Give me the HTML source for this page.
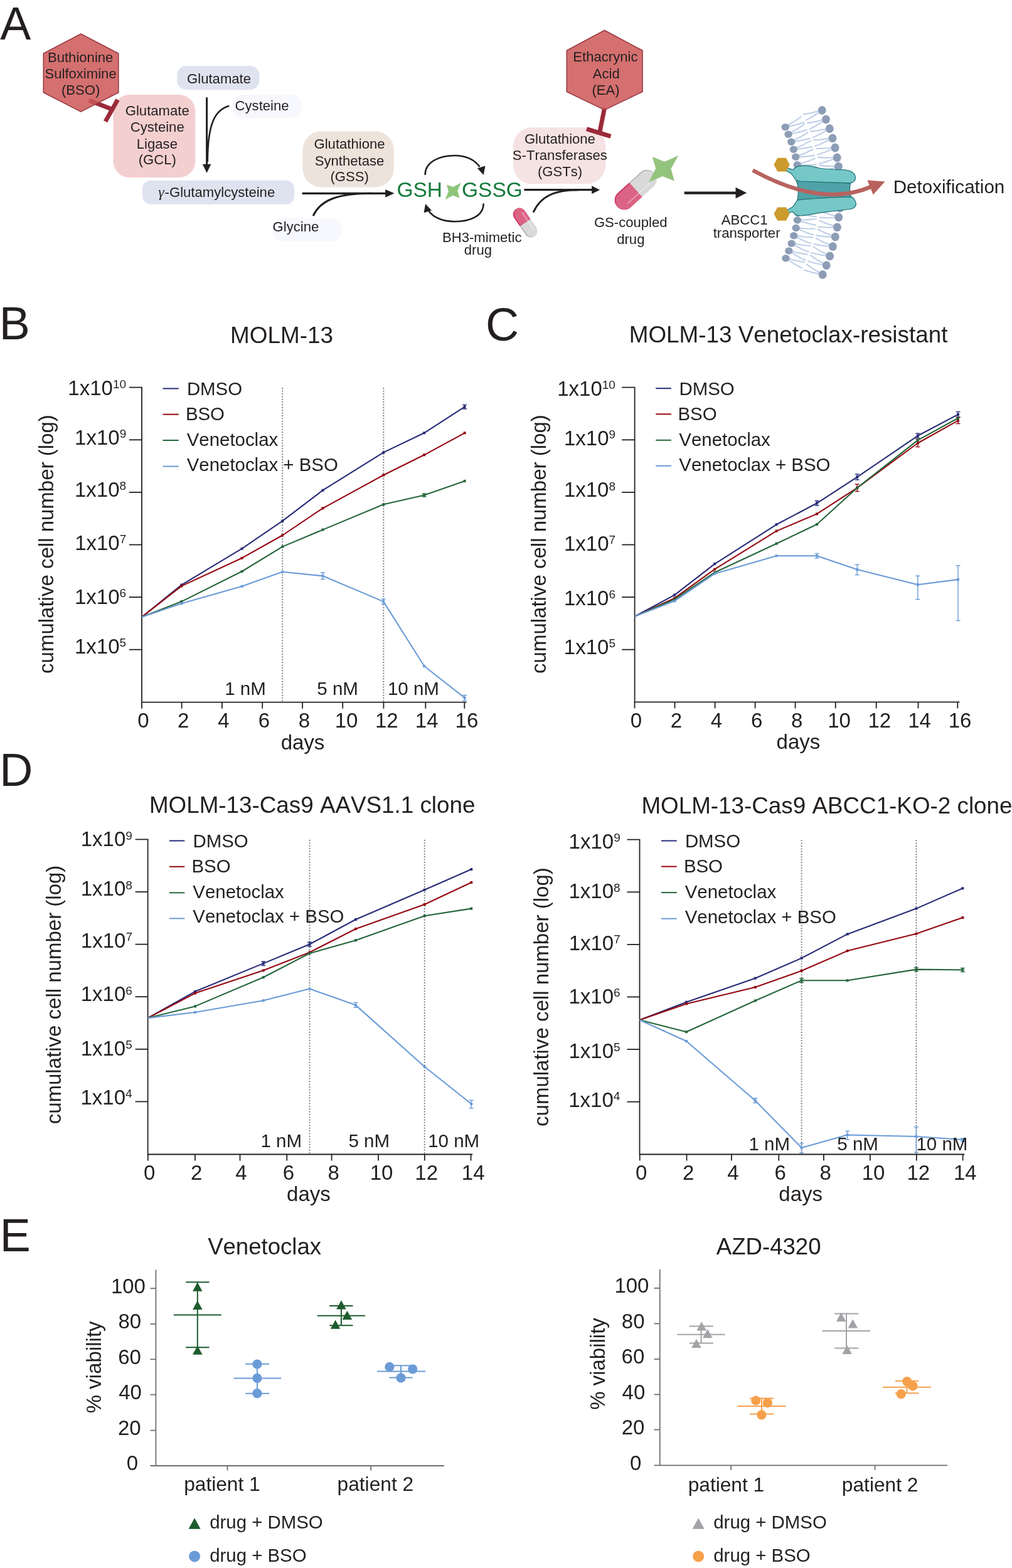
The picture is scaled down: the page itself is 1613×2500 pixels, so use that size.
<!DOCTYPE html>
<html><head><meta charset="utf-8"><title>Figure</title><style>html,body{margin:0;padding:0;background:#fff;}svg{display:block;}text{font-family:"Liberation Sans",Arial,sans-serif;font-kerning:none;}</style></head><body>
<svg width="1613" height="2500" viewBox="0 0 1613 2500" font-family="'Liberation Sans', Arial, sans-serif">
<rect width="1613" height="2500" fill="#ffffff"/>
<text x="0.36" y="63.00" font-size="73.5" fill="#231f20">A</text>
<text x="-1.33" y="541.40" font-size="73.5" fill="#231f20">B</text>
<text x="773.97" y="542.70" font-size="73.5" fill="#231f20">C</text>
<text x="-0.83" y="1252.70" font-size="73.5" fill="#231f20">D</text>
<text x="-0.33" y="1995.30" font-size="73.5" fill="#231f20">E</text>
<rect x="180.40" y="151.10" width="130.90" height="131.90" rx="26" ry="26" fill="#f4cfd0"/>
<rect x="282.20" y="105.00" width="131.30" height="38.20" rx="15" ry="15" fill="#dfe3f0"/>
<rect x="371.60" y="151.10" width="109.00" height="37.40" rx="15" ry="15" fill="#f7f8fe"/>
<rect x="227.00" y="287.70" width="242.10" height="38.00" rx="13" ry="13" fill="#dfe3f0"/>
<rect x="435.00" y="348.00" width="109.50" height="36.80" rx="15" ry="15" fill="#f7f8fe"/>
<rect x="482.30" y="209.20" width="145.60" height="89.40" rx="30" ry="30" fill="#eee3db"/>
<rect x="817.90" y="203.20" width="147.30" height="90.10" rx="30" ry="30" fill="#f5e2e2"/>
<line x1="141.9" y1="159.9" x2="177.5" y2="173.8" stroke="#9b2a3a" stroke-width="7"/>
<line x1="187.5" y1="159.0" x2="168.0" y2="193.6" stroke="#9b2a3a" stroke-width="7"/>
<polygon points="128.9,54 188.8,85.2 188.8,147.5 128.9,178.1 69.3,147.5 69.3,85.2" fill="#cc5756" fill-opacity="0.85" stroke="#9a3a46" stroke-width="1.6" stroke-linejoin="round"/>
<text x="75.96" y="99.10" font-size="22.1" fill="#231f20">Buthionine</text>
<text x="71.47" y="125.30" font-size="22.1" fill="#231f20">Sulfoximine</text>
<text x="97.90" y="151.40" font-size="22.1" fill="#231f20">(BSO)</text>
<line x1="963.6" y1="172" x2="955.9" y2="210.5" stroke="#9b2a3a" stroke-width="7"/>
<line x1="935.0" y1="205.6" x2="973.4" y2="217.3" stroke="#9b2a3a" stroke-width="7"/>
<polygon points="963.6,48.2 1024,80.5 1024,146.2 963.6,175.4 903.3,146.2 903.3,80.5" fill="#cc5756" fill-opacity="0.85" stroke="#9a3a46" stroke-width="1.6" stroke-linejoin="round"/>
<text x="913.30" y="98.40" font-size="22.1" fill="#231f20">Ethacrynic</text>
<text x="944.69" y="125.10" font-size="22.1" fill="#231f20">Acid</text>
<text x="943.40" y="151.40" font-size="22.1" fill="#231f20">(EA)</text>
<text x="199.76" y="184.40" font-size="22.1" fill="#231f20">Glutamate</text>
<text x="207.74" y="210.30" font-size="22.1" fill="#231f20">Cysteine</text>
<text x="217.82" y="237.30" font-size="22.1" fill="#231f20">Ligase</text>
<text x="220.72" y="262.30" font-size="22.1" fill="#231f20">(GCL)</text>
<text x="298.09" y="133.00" font-size="22.1" fill="#231f20">Glutamate</text>
<text x="374.58" y="175.60" font-size="22.1" fill="#231f20">Cysteine</text>
<text x="434.59" y="369.30" font-size="22.1" fill="#231f20">Glycine</text>
<text x="252.2" y="314.3" font-size="24" fill="#231f20" style="font-family:'Liberation Serif','DejaVu Serif',serif;font-style:italic">γ</text>
<text x="262.62" y="314.30" font-size="22.1" fill="#231f20">-Glutamylcysteine</text>
<text x="500.52" y="236.90" font-size="22.1" fill="#231f20">Glutathione</text>
<text x="501.80" y="263.50" font-size="22.1" fill="#231f20">Synthetase</text>
<text x="526.40" y="288.70" font-size="22.1" fill="#231f20">(GSS)</text>
<text x="835.92" y="229.00" font-size="22.1" fill="#231f20">Glutathione</text>
<text x="816.87" y="255.30" font-size="22.1" fill="#231f20">S-Transferases</text>
<text x="856.90" y="280.60" font-size="22.1" fill="#231f20">(GSTs)</text>
<text x="705.00" y="385.70" font-size="22.1" fill="#231f20">BH3-mimetic</text>
<text x="739.83" y="406.00" font-size="22.1" fill="#231f20">drug</text>
<text x="946.90" y="362.40" font-size="22.1" fill="#231f20">GS-coupled</text>
<text x="983.23" y="388.70" font-size="22.1" fill="#231f20">drug</text>
<text x="1149.87" y="357.70" font-size="22.1" fill="#231f20">ABCC1</text>
<text x="1136.68" y="378.70" font-size="22.1" fill="#231f20">transporter</text>
<text x="1423.67" y="308.20" font-size="29.6" fill="#231f20">Detoxification</text>
<line x1="329.6" y1="155.3" x2="329.6" y2="264" stroke="#231f20" stroke-width="3"/>
<polygon points="329.60,275.80 322.80,261.80 336.40,261.80" fill="#231f20"/>
<path d="M365.3,168.8 C343,175 331,196 330.8,258" fill="none" stroke="#231f20" stroke-width="2.6"/>
<line x1="481.6" y1="308.3" x2="616" y2="308.3" stroke="#231f20" stroke-width="3.2"/>
<polygon points="628.50,308.30 614.20,314.70 614.20,301.90" fill="#231f20"/>
<path d="M499.1,344.2 C511,318 540,308.5 592,308.3" fill="none" stroke="#231f20" stroke-width="3"/>
<path d="M677.7,279 C677,259 699,248 725,248 C743,248 757,255 764.5,266" fill="none" stroke="#231f20" stroke-width="2.6"/>
<polygon points="760.9,268.3 773.5,264.5 770.6,278.9" fill="#231f20"/>
<path d="M770.6,324.5 C771,344 750,353.2 725,353.2 C706,353.2 691,347 683.5,336.5" fill="none" stroke="#231f20" stroke-width="2.6"/>
<polygon points="675.6,339.3 678.1,324.9 687.9,335.5" fill="#231f20"/>
<line x1="835.4" y1="302.7" x2="945" y2="302.7" stroke="#231f20" stroke-width="3.2"/>
<polygon points="956.00,302.70 943.20,309.20 943.20,296.20" fill="#231f20"/>
<path d="M850,338.6 C862,312 885,302.9 922,302.7" fill="none" stroke="#231f20" stroke-width="2.9"/>
<line x1="1090.7" y1="307.6" x2="1175" y2="307.6" stroke="#231f20" stroke-width="4.3"/>
<polygon points="1190.10,307.60 1172.50,316.40 1172.50,298.80" fill="#231f20"/>
<text x="632.42" y="314.20" font-size="33.5" fill="#137a3b">GSH</text>
<text x="736.02" y="314.20" font-size="33.5" fill="#137a3b">GSSG</text>
<polygon points="711.9,294.5 722.5,297.9 734.7,291.6 729.2,304.2 732.6,315.6 721.6,311.8 709.4,318.2 714.9,305.5" fill="#8ec57a"/>
<g transform="translate(1013.00,302.60) rotate(-42.40)"><clipPath id="pbiga"><rect x="-39.75" y="-15.25" width="79.50" height="30.50" rx="15.25"/></clipPath><g clip-path="url(#pbiga)"><rect x="0" y="-16.25" width="40.75" height="32.50" fill="#b4b4b4"/><rect x="-39.75" y="-13.45" width="79.50" height="30.50" rx="15.25" fill="#d9d9d9" clip-path="none"/></g><clipPath id="pbigb"><rect x="-40.75" y="-16.25" width="40.75" height="32.50"/></clipPath><g clip-path="url(#pbigb)"><g clip-path="url(#pbiga)"><rect x="-39.75" y="-16.25" width="79.50" height="32.50" fill="#c9345e"/><rect x="-39.15" y="-13.45" width="79.50" height="30.50" rx="15.25" fill="#db6384"/></g></g><line x1="-24.50" y1="7.62" x2="26.02" y2="7.62" stroke="#ffffff" stroke-opacity="0.45" stroke-width="1.6"/></g>
<g transform="translate(837.00,354.90) rotate(55.60)"><clipPath id="psmalla"><rect x="-26.25" y="-10.20" width="52.50" height="20.40" rx="10.20"/></clipPath><g clip-path="url(#psmalla)"><rect x="0" y="-11.20" width="27.25" height="22.40" fill="#b4b4b4"/><rect x="-26.25" y="-12.00" width="52.50" height="20.40" rx="10.20" fill="#d9d9d9" clip-path="none"/></g><clipPath id="psmallb"><rect x="-27.25" y="-11.20" width="27.25" height="22.40"/></clipPath><g clip-path="url(#psmallb)"><g clip-path="url(#psmalla)"><rect x="-26.25" y="-11.20" width="52.50" height="22.40" fill="#c9345e"/><rect x="-25.65" y="-12.00" width="52.50" height="20.40" rx="10.20" fill="#db6384"/></g></g><line x1="-16.05" y1="-5.10" x2="17.07" y2="-5.10" stroke="#ffffff" stroke-opacity="0.45" stroke-width="1.6"/></g>
<polygon points="1039.8,250 1059.3,257.8 1081.2,248 1069.5,269 1074.9,288.4 1055.9,281.1 1034,290.4 1045.2,268.5" fill="#93c47d"/>
<path d="M1255.9,199.6 Q1266.8,193.9 1276.9,186.0" fill="none" stroke="#bfcfe8" stroke-width="2.1" stroke-linecap="round"/>
<path d="M1256.7,201.6 Q1269.2,199.5 1280.9,195.2" fill="none" stroke="#bfcfe8" stroke-width="2.1" stroke-linecap="round"/>
<path d="M1260.7,211.1 Q1271.7,205.6 1281.9,197.8" fill="none" stroke="#bfcfe8" stroke-width="2.1" stroke-linecap="round"/>
<path d="M1261.5,213.2 Q1274.1,211.2 1285.8,207.1" fill="none" stroke="#bfcfe8" stroke-width="2.1" stroke-linecap="round"/>
<path d="M1265.5,223.4 Q1276.9,218.5 1287.4,211.3" fill="none" stroke="#bfcfe8" stroke-width="2.1" stroke-linecap="round"/>
<path d="M1266.3,225.5 Q1278.9,224.2 1290.8,220.7" fill="none" stroke="#bfcfe8" stroke-width="2.1" stroke-linecap="round"/>
<path d="M1269.3,235.7 Q1280.8,231.3 1291.7,224.6" fill="none" stroke="#bfcfe8" stroke-width="2.1" stroke-linecap="round"/>
<path d="M1269.9,237.8 Q1282.6,237.1 1294.6,234.1" fill="none" stroke="#bfcfe8" stroke-width="2.1" stroke-linecap="round"/>
<path d="M1272.8,248.0 Q1284.5,244.1 1295.7,238.0" fill="none" stroke="#bfcfe8" stroke-width="2.1" stroke-linecap="round"/>
<path d="M1273.3,250.1 Q1286.0,250.0 1298.2,247.6" fill="none" stroke="#bfcfe8" stroke-width="2.1" stroke-linecap="round"/>
<path d="M1275.4,260.8 Q1287.4,257.9 1299.1,252.5" fill="none" stroke="#bfcfe8" stroke-width="2.1" stroke-linecap="round"/>
<path d="M1275.8,263.0 Q1288.5,263.9 1300.8,262.4" fill="none" stroke="#bfcfe8" stroke-width="2.1" stroke-linecap="round"/>
<path d="M1277.0,273.2 Q1289.1,270.7 1300.9,265.8" fill="none" stroke="#bfcfe8" stroke-width="2.1" stroke-linecap="round"/>
<path d="M1277.3,275.4 Q1289.9,276.8 1302.3,275.7" fill="none" stroke="#bfcfe8" stroke-width="2.1" stroke-linecap="round"/>
<path d="M1276.6,338.6 Q1288.9,338.2 1301.4,335.5" fill="none" stroke="#bfcfe8" stroke-width="2.1" stroke-linecap="round"/>
<path d="M1276.4,340.8 Q1288.7,344.3 1301.0,345.5" fill="none" stroke="#bfcfe8" stroke-width="2.1" stroke-linecap="round"/>
<path d="M1276.0,350.4 Q1288.4,350.9 1301.0,349.0" fill="none" stroke="#bfcfe8" stroke-width="2.1" stroke-linecap="round"/>
<path d="M1275.7,352.6 Q1287.7,357.0 1299.9,358.9" fill="none" stroke="#bfcfe8" stroke-width="2.1" stroke-linecap="round"/>
<path d="M1273.7,363.5 Q1286.0,365.2 1298.7,364.7" fill="none" stroke="#bfcfe8" stroke-width="2.1" stroke-linecap="round"/>
<path d="M1273.2,365.6 Q1284.7,371.2 1296.6,374.5" fill="none" stroke="#bfcfe8" stroke-width="2.1" stroke-linecap="round"/>
<path d="M1270.3,376.0 Q1282.5,378.4 1295.2,378.5" fill="none" stroke="#bfcfe8" stroke-width="2.1" stroke-linecap="round"/>
<path d="M1269.7,378.1 Q1280.9,384.3 1292.6,388.2" fill="none" stroke="#bfcfe8" stroke-width="2.1" stroke-linecap="round"/>
<path d="M1266.7,388.5 Q1278.7,391.4 1291.5,392.0" fill="none" stroke="#bfcfe8" stroke-width="2.1" stroke-linecap="round"/>
<path d="M1266.0,390.6 Q1276.9,397.2 1288.5,401.6" fill="none" stroke="#bfcfe8" stroke-width="2.1" stroke-linecap="round"/>
<path d="M1262.4,400.6 Q1274.2,404.1 1286.9,405.5" fill="none" stroke="#bfcfe8" stroke-width="2.1" stroke-linecap="round"/>
<path d="M1261.6,402.6 Q1272.1,409.9 1283.4,414.8" fill="none" stroke="#bfcfe8" stroke-width="2.1" stroke-linecap="round"/>
<path d="M1257.5,412.5 Q1269.2,416.3 1281.9,417.9" fill="none" stroke="#bfcfe8" stroke-width="2.1" stroke-linecap="round"/>
<path d="M1256.6,414.5 Q1267.0,422.0 1278.2,427.2" fill="none" stroke="#bfcfe8" stroke-width="2.1" stroke-linecap="round"/>
<path d="M1305.2,176.7 Q1293.5,180.6 1280.9,182.3" fill="none" stroke="#bfcfe8" stroke-width="2.1" stroke-linecap="round"/>
<path d="M1306.1,178.7 Q1295.8,186.2 1284.7,191.6" fill="none" stroke="#bfcfe8" stroke-width="2.1" stroke-linecap="round"/>
<path d="M1311.4,191.1 Q1299.6,194.8 1287.0,196.4" fill="none" stroke="#bfcfe8" stroke-width="2.1" stroke-linecap="round"/>
<path d="M1312.3,193.1 Q1301.9,200.5 1290.6,205.7" fill="none" stroke="#bfcfe8" stroke-width="2.1" stroke-linecap="round"/>
<path d="M1317.2,205.6 Q1305.2,208.7 1292.5,209.6" fill="none" stroke="#bfcfe8" stroke-width="2.1" stroke-linecap="round"/>
<path d="M1317.9,207.7 Q1307.2,214.5 1295.7,219.1" fill="none" stroke="#bfcfe8" stroke-width="2.1" stroke-linecap="round"/>
<path d="M1321.9,220.5 Q1309.8,223.0 1297.0,223.2" fill="none" stroke="#bfcfe8" stroke-width="2.1" stroke-linecap="round"/>
<path d="M1322.5,222.7 Q1311.4,228.9 1299.6,232.8" fill="none" stroke="#bfcfe8" stroke-width="2.1" stroke-linecap="round"/>
<path d="M1326.0,235.5 Q1313.7,237.3 1301.0,236.8" fill="none" stroke="#bfcfe8" stroke-width="2.1" stroke-linecap="round"/>
<path d="M1326.5,237.6 Q1315.0,243.2 1303.1,246.5" fill="none" stroke="#bfcfe8" stroke-width="2.1" stroke-linecap="round"/>
<path d="M1329.1,251.0 Q1316.8,252.1 1304.0,250.9" fill="none" stroke="#bfcfe8" stroke-width="2.1" stroke-linecap="round"/>
<path d="M1329.5,253.2 Q1317.8,258.2 1305.6,260.8" fill="none" stroke="#bfcfe8" stroke-width="2.1" stroke-linecap="round"/>
<path d="M1331.3,264.9 Q1318.9,265.5 1306.3,263.6" fill="none" stroke="#bfcfe8" stroke-width="2.1" stroke-linecap="round"/>
<path d="M1331.6,267.1 Q1319.6,271.5 1307.4,273.6" fill="none" stroke="#bfcfe8" stroke-width="2.1" stroke-linecap="round"/>
<path d="M1332.7,279.3 Q1320.4,279.5 1307.8,277.3" fill="none" stroke="#bfcfe8" stroke-width="2.1" stroke-linecap="round"/>
<path d="M1332.9,281.5 Q1320.9,285.6 1308.6,287.2" fill="none" stroke="#bfcfe8" stroke-width="2.1" stroke-linecap="round"/>
<path d="M1333.9,329.7 Q1321.8,327.1 1310.0,322.2" fill="none" stroke="#bfcfe8" stroke-width="2.1" stroke-linecap="round"/>
<path d="M1333.6,331.9 Q1321.0,333.2 1308.6,332.1" fill="none" stroke="#bfcfe8" stroke-width="2.1" stroke-linecap="round"/>
<path d="M1332.0,344.5 Q1320.0,341.8 1308.2,336.8" fill="none" stroke="#bfcfe8" stroke-width="2.1" stroke-linecap="round"/>
<path d="M1331.7,346.7 Q1319.0,347.9 1306.7,346.6" fill="none" stroke="#bfcfe8" stroke-width="2.1" stroke-linecap="round"/>
<path d="M1329.7,360.3 Q1317.7,357.1 1306.2,351.7" fill="none" stroke="#bfcfe8" stroke-width="2.1" stroke-linecap="round"/>
<path d="M1329.3,362.4 Q1316.6,363.1 1304.3,361.5" fill="none" stroke="#bfcfe8" stroke-width="2.1" stroke-linecap="round"/>
<path d="M1326.7,375.4 Q1314.9,371.7 1303.6,365.7" fill="none" stroke="#bfcfe8" stroke-width="2.1" stroke-linecap="round"/>
<path d="M1326.2,377.6 Q1313.5,377.7 1301.3,375.4" fill="none" stroke="#bfcfe8" stroke-width="2.1" stroke-linecap="round"/>
<path d="M1322.9,390.6 Q1311.3,386.3 1300.4,379.6" fill="none" stroke="#bfcfe8" stroke-width="2.1" stroke-linecap="round"/>
<path d="M1322.3,392.7 Q1309.6,392.1 1297.6,389.2" fill="none" stroke="#bfcfe8" stroke-width="2.1" stroke-linecap="round"/>
<path d="M1318.2,405.6 Q1306.9,400.7 1296.3,393.5" fill="none" stroke="#bfcfe8" stroke-width="2.1" stroke-linecap="round"/>
<path d="M1317.5,407.7 Q1304.9,406.5 1293.0,403.0" fill="none" stroke="#bfcfe8" stroke-width="2.1" stroke-linecap="round"/>
<path d="M1313.1,420.2 Q1301.9,414.8 1291.7,407.2" fill="none" stroke="#bfcfe8" stroke-width="2.1" stroke-linecap="round"/>
<path d="M1312.3,422.2 Q1299.7,420.5 1287.9,416.5" fill="none" stroke="#bfcfe8" stroke-width="2.1" stroke-linecap="round"/>
<path d="M1307.0,434.9 Q1296.0,429.3 1285.9,421.4" fill="none" stroke="#bfcfe8" stroke-width="2.1" stroke-linecap="round"/>
<path d="M1306.2,436.9 Q1293.6,434.9 1282.0,430.6" fill="none" stroke="#bfcfe8" stroke-width="2.1" stroke-linecap="round"/>
<ellipse cx="1251.7" cy="202.6" rx="6.2" ry="5.7" fill="#8d9db6"/>
<ellipse cx="1256.5" cy="214.1" rx="6.2" ry="5.7" fill="#8d9db6"/>
<ellipse cx="1261.2" cy="226.2" rx="6.2" ry="5.7" fill="#8d9db6"/>
<ellipse cx="1264.8" cy="238.2" rx="6.2" ry="5.7" fill="#8d9db6"/>
<ellipse cx="1268.2" cy="250.3" rx="6.2" ry="5.7" fill="#8d9db6"/>
<ellipse cx="1270.7" cy="262.8" rx="6.2" ry="5.7" fill="#8d9db6"/>
<ellipse cx="1272.2" cy="275.0" rx="6.2" ry="5.7" fill="#8d9db6"/>
<ellipse cx="1271.5" cy="339.5" rx="6.2" ry="5.7" fill="#8d9db6"/>
<ellipse cx="1270.9" cy="351.0" rx="6.2" ry="5.7" fill="#8d9db6"/>
<ellipse cx="1268.6" cy="363.5" rx="6.2" ry="5.7" fill="#8d9db6"/>
<ellipse cx="1265.2" cy="375.8" rx="6.2" ry="5.7" fill="#8d9db6"/>
<ellipse cx="1261.6" cy="388.1" rx="6.2" ry="5.7" fill="#8d9db6"/>
<ellipse cx="1257.3" cy="399.9" rx="6.2" ry="5.7" fill="#8d9db6"/>
<ellipse cx="1252.4" cy="411.7" rx="6.2" ry="5.7" fill="#8d9db6"/>
<ellipse cx="1310.3" cy="175.8" rx="6.4" ry="6.9" fill="#8d9db6"/>
<ellipse cx="1316.5" cy="190.3" rx="6.4" ry="6.9" fill="#8d9db6"/>
<ellipse cx="1322.3" cy="205.1" rx="6.4" ry="6.9" fill="#8d9db6"/>
<ellipse cx="1327.0" cy="220.3" rx="6.4" ry="6.9" fill="#8d9db6"/>
<ellipse cx="1331.1" cy="235.5" rx="6.4" ry="6.9" fill="#8d9db6"/>
<ellipse cx="1334.2" cy="251.3" rx="6.4" ry="6.9" fill="#8d9db6"/>
<ellipse cx="1336.4" cy="265.5" rx="6.4" ry="6.9" fill="#8d9db6"/>
<ellipse cx="1337.8" cy="280.0" rx="6.4" ry="6.9" fill="#8d9db6"/>
<ellipse cx="1338.7" cy="331.5" rx="6.4" ry="6.9" fill="#8d9db6"/>
<ellipse cx="1336.8" cy="346.4" rx="6.4" ry="6.9" fill="#8d9db6"/>
<ellipse cx="1334.4" cy="362.3" rx="6.4" ry="6.9" fill="#8d9db6"/>
<ellipse cx="1331.3" cy="377.7" rx="6.4" ry="6.9" fill="#8d9db6"/>
<ellipse cx="1327.4" cy="393.1" rx="6.4" ry="6.9" fill="#8d9db6"/>
<ellipse cx="1322.6" cy="408.3" rx="6.4" ry="6.9" fill="#8d9db6"/>
<ellipse cx="1317.3" cy="423.1" rx="6.4" ry="6.9" fill="#8d9db6"/>
<ellipse cx="1311.2" cy="437.9" rx="6.4" ry="6.9" fill="#8d9db6"/>
<path d="M1269,288 C1273,296 1273,310 1270.9,319 L1356.6,314 C1354,306 1354,298 1355.6,291.9 Z" fill="#4fa3a8" stroke="#1f6f73" stroke-width="1.2"/>
<path d="M1252,267 C1257,268 1261,270 1264.1,270.5 C1266,268 1270,265 1275.8,264.6 C1283,263.5 1295,265 1307.9,268.5 C1320,270 1335,270.5 1346.9,270.9 C1356,272 1363,276 1363.4,283 C1363.5,288 1360,291 1355.6,291.9 C1340,291.5 1300,290 1275.8,289 C1271,288.5 1268,287 1267,285 C1264,280 1262,277.3 1260,276 C1257,274.5 1255,273 1252,272 Z" fill="#76c8c8" stroke="#1f6f73" stroke-width="1.2"/>
<path d="M1252,336 C1256,334 1259.5,332.5 1263.1,329.9 C1266,327.5 1268,323 1270.9,319.2 C1278,317.5 1288,317.2 1300,316.5 C1320,315 1345,313.8 1356.6,313.8 C1361,315 1363,318 1364.4,325 C1364.5,329 1362,331 1358,333 C1345,334.5 1330,336.5 1307.9,339.1 C1297,341 1285,343.5 1275.8,344 C1271,344 1268,342.5 1266.5,340.5 C1264,337 1262,337.5 1259,339 C1256,340.5 1254,341.5 1252,342 Z" fill="#76c8c8" stroke="#1f6f73" stroke-width="1.2"/>
<polygon points="1239.3,251.8 1252.9,251.8 1258.7,262.5 1252.9,273.4 1239.3,273.4 1233.4,262.5" fill="#cd9a2c"/>
<polygon points="1239.3,330.4 1252.9,330.4 1258.7,341.1 1252.9,351.8 1239.3,351.8 1233.4,341.1" fill="#cd9a2c"/>
<path d="M1199.8,271.6 Q1310,332 1389,297.5" fill="none" stroke="#b8625f" stroke-width="6.3"/>
<polygon points="1410.5,289.4 1382.4,287.3 1391.7,310.4" fill="#b8625f"/>
<path d="M205.80,617.70 H226.00 V1119.70 H743.60" fill="none" stroke="#231f20" stroke-width="1.8"/>
<text x="108.35" y="629.60" font-size="33" fill="#231f20">1x10</text>
<text x="179.91" y="618.90" font-size="19" fill="#231f20">10</text>
<line x1="205.80" y1="701.30" x2="226.00" y2="701.30" stroke="#231f20" stroke-width="1.8"/>
<text x="119.07" y="709.10" font-size="33" fill="#231f20">1x10</text>
<text x="190.63" y="698.40" font-size="19" fill="#231f20">9</text>
<line x1="205.80" y1="784.90" x2="226.00" y2="784.90" stroke="#231f20" stroke-width="1.8"/>
<text x="119.00" y="791.60" font-size="33" fill="#231f20">1x10</text>
<text x="190.56" y="780.90" font-size="19" fill="#231f20">8</text>
<line x1="205.80" y1="868.50" x2="226.00" y2="868.50" stroke="#231f20" stroke-width="1.8"/>
<text x="119.13" y="876.80" font-size="33" fill="#231f20">1x10</text>
<text x="190.69" y="866.10" font-size="19" fill="#231f20">7</text>
<line x1="205.80" y1="952.10" x2="226.00" y2="952.10" stroke="#231f20" stroke-width="1.8"/>
<text x="119.01" y="963.00" font-size="33" fill="#231f20">1x10</text>
<text x="190.57" y="952.30" font-size="19" fill="#231f20">6</text>
<line x1="205.80" y1="1035.70" x2="226.00" y2="1035.70" stroke="#231f20" stroke-width="1.8"/>
<text x="118.97" y="1041.60" font-size="33" fill="#231f20">1x10</text>
<text x="190.53" y="1030.90" font-size="19" fill="#231f20">5</text>
<line x1="226.00" y1="1119.70" x2="226.00" y2="1129.70" stroke="#231f20" stroke-width="1.8"/>
<text x="219.22" y="1160.00" font-size="33" fill="#231f20">0</text>
<line x1="289.60" y1="1119.70" x2="289.60" y2="1129.70" stroke="#231f20" stroke-width="1.8"/>
<text x="283.02" y="1160.00" font-size="33" fill="#231f20">2</text>
<line x1="353.90" y1="1119.70" x2="353.90" y2="1129.70" stroke="#231f20" stroke-width="1.8"/>
<text x="347.13" y="1160.00" font-size="33" fill="#231f20">4</text>
<line x1="418.20" y1="1119.70" x2="418.20" y2="1129.70" stroke="#231f20" stroke-width="1.8"/>
<text x="411.71" y="1160.00" font-size="33" fill="#231f20">6</text>
<line x1="482.10" y1="1119.70" x2="482.10" y2="1129.70" stroke="#231f20" stroke-width="1.8"/>
<text x="475.82" y="1160.00" font-size="33" fill="#231f20">8</text>
<line x1="546.20" y1="1119.70" x2="546.20" y2="1129.70" stroke="#231f20" stroke-width="1.8"/>
<text x="533.73" y="1160.00" font-size="33" fill="#231f20">10</text>
<line x1="611.40" y1="1119.70" x2="611.40" y2="1129.70" stroke="#231f20" stroke-width="1.8"/>
<text x="598.02" y="1160.00" font-size="33" fill="#231f20">12</text>
<line x1="678.30" y1="1119.70" x2="678.30" y2="1129.70" stroke="#231f20" stroke-width="1.8"/>
<text x="661.87" y="1160.00" font-size="33" fill="#231f20">14</text>
<line x1="740.30" y1="1119.70" x2="740.30" y2="1129.70" stroke="#231f20" stroke-width="1.8"/>
<text x="725.62" y="1160.00" font-size="33" fill="#231f20">16</text>
<line x1="450.20" y1="619.20" x2="450.20" y2="1118.20" stroke="#76777a" stroke-width="2.2" stroke-dasharray="0 4.37" stroke-linecap="round"/>
<line x1="611.30" y1="619.20" x2="611.30" y2="1118.20" stroke="#76777a" stroke-width="2.2" stroke-dasharray="0 4.37" stroke-linecap="round"/>
<polyline points="226.00,983.80 289.30,932.60 385.70,874.70 450.20,830.70 514.50,781.70 611.20,721.40 676.10,690.30 740.60,648.70" fill="none" stroke="#272b77" stroke-width="2.1" stroke-linejoin="round"/>
<rect x="287.30" y="930.60" width="4" height="4" fill="#272b77"/>
<rect x="383.70" y="872.70" width="4" height="4" fill="#272b77"/>
<rect x="448.20" y="828.70" width="4" height="4" fill="#272b77"/>
<rect x="512.50" y="779.70" width="4" height="4" fill="#272b77"/>
<rect x="609.20" y="719.40" width="4" height="4" fill="#272b77"/>
<rect x="674.10" y="688.30" width="4" height="4" fill="#272b77"/>
<rect x="738.60" y="646.70" width="4" height="4" fill="#272b77"/>
<line x1="740.60" y1="645.50" x2="740.60" y2="652.00" stroke="#272b77" stroke-width="1.4"/>
<line x1="737.10" y1="645.50" x2="744.10" y2="645.50" stroke="#272b77" stroke-width="1.4"/>
<line x1="737.10" y1="652.00" x2="744.10" y2="652.00" stroke="#272b77" stroke-width="1.4"/>
<polyline points="226.00,983.80 289.30,934.40 385.70,889.70 450.20,853.50 514.50,810.30 611.20,757.50 676.10,725.30 740.60,690.30" fill="none" stroke="#950812" stroke-width="2.1" stroke-linejoin="round"/>
<rect x="287.30" y="932.40" width="4" height="4" fill="#950812"/>
<rect x="383.70" y="887.70" width="4" height="4" fill="#950812"/>
<rect x="448.20" y="851.50" width="4" height="4" fill="#950812"/>
<rect x="512.50" y="808.30" width="4" height="4" fill="#950812"/>
<rect x="609.20" y="755.50" width="4" height="4" fill="#950812"/>
<rect x="674.10" y="723.30" width="4" height="4" fill="#950812"/>
<rect x="738.60" y="688.30" width="4" height="4" fill="#950812"/>
<polyline points="226.00,983.80 289.30,959.10 385.70,911.00 450.20,871.60 514.50,844.60 611.20,804.30 676.10,789.50 740.60,766.90" fill="none" stroke="#25663a" stroke-width="2.1" stroke-linejoin="round"/>
<rect x="287.30" y="957.10" width="4" height="4" fill="#25663a"/>
<rect x="383.70" y="909.00" width="4" height="4" fill="#25663a"/>
<rect x="448.20" y="869.60" width="4" height="4" fill="#25663a"/>
<rect x="512.50" y="842.60" width="4" height="4" fill="#25663a"/>
<rect x="609.20" y="802.30" width="4" height="4" fill="#25663a"/>
<rect x="674.10" y="787.50" width="4" height="4" fill="#25663a"/>
<rect x="738.60" y="764.90" width="4" height="4" fill="#25663a"/>
<line x1="676.10" y1="787.00" x2="676.10" y2="792.00" stroke="#25663a" stroke-width="1.4"/>
<line x1="672.60" y1="787.00" x2="679.60" y2="787.00" stroke="#25663a" stroke-width="1.4"/>
<line x1="672.60" y1="792.00" x2="679.60" y2="792.00" stroke="#25663a" stroke-width="1.4"/>
<polyline points="226.00,983.80 289.30,962.20 385.70,934.70 450.20,911.80 514.50,918.30 611.20,959.10 676.10,1062.00 740.60,1112.60" fill="none" stroke="#6a9bd7" stroke-width="2.1" stroke-linejoin="round"/>
<rect x="287.30" y="960.20" width="4" height="4" fill="#6a9bd7"/>
<rect x="383.70" y="932.70" width="4" height="4" fill="#6a9bd7"/>
<rect x="448.20" y="909.80" width="4" height="4" fill="#6a9bd7"/>
<rect x="512.50" y="916.30" width="4" height="4" fill="#6a9bd7"/>
<rect x="609.20" y="957.10" width="4" height="4" fill="#6a9bd7"/>
<rect x="674.10" y="1060.00" width="4" height="4" fill="#6a9bd7"/>
<rect x="738.60" y="1110.60" width="4" height="4" fill="#6a9bd7"/>
<line x1="514.50" y1="913.00" x2="514.50" y2="923.50" stroke="#6a9bd7" stroke-width="1.4"/>
<line x1="511.00" y1="913.00" x2="518.00" y2="913.00" stroke="#6a9bd7" stroke-width="1.4"/>
<line x1="511.00" y1="923.50" x2="518.00" y2="923.50" stroke="#6a9bd7" stroke-width="1.4"/>
<line x1="611.20" y1="955.00" x2="611.20" y2="963.00" stroke="#6a9bd7" stroke-width="1.4"/>
<line x1="607.70" y1="955.00" x2="614.70" y2="955.00" stroke="#6a9bd7" stroke-width="1.4"/>
<line x1="607.70" y1="963.00" x2="614.70" y2="963.00" stroke="#6a9bd7" stroke-width="1.4"/>
<line x1="740.60" y1="1108.50" x2="740.60" y2="1117.00" stroke="#6a9bd7" stroke-width="1.4"/>
<line x1="737.10" y1="1108.50" x2="744.10" y2="1108.50" stroke="#6a9bd7" stroke-width="1.4"/>
<line x1="737.10" y1="1117.00" x2="744.10" y2="1117.00" stroke="#6a9bd7" stroke-width="1.4"/>
<line x1="259.50" y1="619.50" x2="284.80" y2="619.50" stroke="#272b77" stroke-width="2"/>
<text x="297.89" y="630.30" font-size="29.4" fill="#231f20">DMSO</text>
<line x1="259.50" y1="660.70" x2="284.80" y2="660.70" stroke="#950812" stroke-width="2"/>
<text x="295.89" y="670.30" font-size="29.4" fill="#231f20">BSO</text>
<line x1="259.50" y1="702.00" x2="284.80" y2="702.00" stroke="#25663a" stroke-width="2"/>
<text x="297.77" y="710.80" font-size="29.4" fill="#231f20">Venetoclax</text>
<line x1="259.50" y1="743.60" x2="284.80" y2="743.60" stroke="#6a9bd7" stroke-width="2"/>
<text x="297.77" y="751.30" font-size="29.4" fill="#231f20">Venetoclax + BSO</text>
<text x="367.07" y="547.40" font-size="36.88" fill="#231f20">MOLM-13</text>
<text transform="translate(85.00,867.60) rotate(-90)" text-anchor="middle" font-size="33" fill="#231f20">cumulative cell number (log)</text>
<text x="447.65" y="1195.00" font-size="33" fill="#231f20">days</text>
<text x="358.15" y="1107.90" font-size="29.5" fill="#231f20">1 nM</text>
<text x="505.32" y="1107.60" font-size="29.5" fill="#231f20">5 nM</text>
<text x="617.95" y="1108.20" font-size="29.5" fill="#231f20">10 nM</text>
<path d="M991.20,617.70 H1011.60 V1119.40 H1529.50" fill="none" stroke="#231f20" stroke-width="1.8"/>
<text x="888.25" y="630.70" font-size="33" fill="#231f20">1x10</text>
<text x="959.81" y="620.00" font-size="19" fill="#231f20">10</text>
<line x1="991.20" y1="701.30" x2="1011.60" y2="701.30" stroke="#231f20" stroke-width="1.8"/>
<text x="898.97" y="709.90" font-size="33" fill="#231f20">1x10</text>
<text x="970.53" y="699.20" font-size="19" fill="#231f20">9</text>
<line x1="991.20" y1="784.90" x2="1011.60" y2="784.90" stroke="#231f20" stroke-width="1.8"/>
<text x="898.90" y="792.40" font-size="33" fill="#231f20">1x10</text>
<text x="970.46" y="781.70" font-size="19" fill="#231f20">8</text>
<line x1="991.20" y1="868.50" x2="1011.60" y2="868.50" stroke="#231f20" stroke-width="1.8"/>
<text x="899.03" y="877.70" font-size="33" fill="#231f20">1x10</text>
<text x="970.59" y="867.00" font-size="19" fill="#231f20">7</text>
<line x1="991.20" y1="952.10" x2="1011.60" y2="952.10" stroke="#231f20" stroke-width="1.8"/>
<text x="898.91" y="964.60" font-size="33" fill="#231f20">1x10</text>
<text x="970.47" y="953.90" font-size="19" fill="#231f20">6</text>
<line x1="991.20" y1="1035.70" x2="1011.60" y2="1035.70" stroke="#231f20" stroke-width="1.8"/>
<text x="898.87" y="1042.70" font-size="33" fill="#231f20">1x10</text>
<text x="970.43" y="1032.00" font-size="19" fill="#231f20">5</text>
<line x1="1011.50" y1="1119.40" x2="1011.50" y2="1129.40" stroke="#231f20" stroke-width="1.8"/>
<text x="1004.82" y="1159.70" font-size="33" fill="#231f20">0</text>
<line x1="1075.50" y1="1119.40" x2="1075.50" y2="1129.40" stroke="#231f20" stroke-width="1.8"/>
<text x="1068.72" y="1159.70" font-size="33" fill="#231f20">2</text>
<line x1="1139.60" y1="1119.40" x2="1139.60" y2="1129.40" stroke="#231f20" stroke-width="1.8"/>
<text x="1132.63" y="1159.70" font-size="33" fill="#231f20">4</text>
<line x1="1203.60" y1="1119.40" x2="1203.60" y2="1129.40" stroke="#231f20" stroke-width="1.8"/>
<text x="1196.91" y="1159.70" font-size="33" fill="#231f20">6</text>
<line x1="1267.60" y1="1119.40" x2="1267.60" y2="1129.40" stroke="#231f20" stroke-width="1.8"/>
<text x="1261.12" y="1159.70" font-size="33" fill="#231f20">8</text>
<line x1="1331.70" y1="1119.40" x2="1331.70" y2="1129.40" stroke="#231f20" stroke-width="1.8"/>
<text x="1319.23" y="1159.70" font-size="33" fill="#231f20">10</text>
<line x1="1396.70" y1="1119.40" x2="1396.70" y2="1129.40" stroke="#231f20" stroke-width="1.8"/>
<text x="1383.42" y="1159.70" font-size="33" fill="#231f20">12</text>
<line x1="1463.50" y1="1119.40" x2="1463.50" y2="1129.40" stroke="#231f20" stroke-width="1.8"/>
<text x="1447.17" y="1159.70" font-size="33" fill="#231f20">14</text>
<line x1="1526.30" y1="1119.40" x2="1526.30" y2="1129.40" stroke="#231f20" stroke-width="1.8"/>
<text x="1511.72" y="1159.70" font-size="33" fill="#231f20">16</text>
<polyline points="1011.70,982.80 1075.20,948.60 1139.10,899.10 1237.60,836.30 1302.00,802.30 1366.20,760.60 1462.80,694.80 1527.00,660.90" fill="none" stroke="#272b77" stroke-width="2.1" stroke-linejoin="round"/>
<rect x="1073.20" y="946.60" width="4" height="4" fill="#272b77"/>
<rect x="1137.10" y="897.10" width="4" height="4" fill="#272b77"/>
<rect x="1235.60" y="834.30" width="4" height="4" fill="#272b77"/>
<rect x="1300.00" y="800.30" width="4" height="4" fill="#272b77"/>
<rect x="1364.20" y="758.60" width="4" height="4" fill="#272b77"/>
<rect x="1460.80" y="692.80" width="4" height="4" fill="#272b77"/>
<rect x="1525.00" y="658.90" width="4" height="4" fill="#272b77"/>
<line x1="1366.20" y1="756.00" x2="1366.20" y2="765.00" stroke="#272b77" stroke-width="1.4"/>
<line x1="1362.70" y1="756.00" x2="1369.70" y2="756.00" stroke="#272b77" stroke-width="1.4"/>
<line x1="1362.70" y1="765.00" x2="1369.70" y2="765.00" stroke="#272b77" stroke-width="1.4"/>
<line x1="1302.00" y1="798.50" x2="1302.00" y2="806.00" stroke="#272b77" stroke-width="1.4"/>
<line x1="1298.50" y1="798.50" x2="1305.50" y2="798.50" stroke="#272b77" stroke-width="1.4"/>
<line x1="1298.50" y1="806.00" x2="1305.50" y2="806.00" stroke="#272b77" stroke-width="1.4"/>
<line x1="1462.80" y1="691.00" x2="1462.80" y2="698.50" stroke="#272b77" stroke-width="1.4"/>
<line x1="1459.30" y1="691.00" x2="1466.30" y2="691.00" stroke="#272b77" stroke-width="1.4"/>
<line x1="1459.30" y1="698.50" x2="1466.30" y2="698.50" stroke="#272b77" stroke-width="1.4"/>
<line x1="1527.00" y1="656.50" x2="1527.00" y2="665.00" stroke="#272b77" stroke-width="1.4"/>
<line x1="1523.50" y1="656.50" x2="1530.50" y2="656.50" stroke="#272b77" stroke-width="1.4"/>
<line x1="1523.50" y1="665.00" x2="1530.50" y2="665.00" stroke="#272b77" stroke-width="1.4"/>
<polyline points="1011.70,982.80 1075.20,953.60 1139.10,907.70 1237.60,846.60 1302.00,819.40 1366.20,777.80 1462.80,706.50 1527.00,670.60" fill="none" stroke="#950812" stroke-width="2.1" stroke-linejoin="round"/>
<rect x="1073.20" y="951.60" width="4" height="4" fill="#950812"/>
<rect x="1137.10" y="905.70" width="4" height="4" fill="#950812"/>
<rect x="1235.60" y="844.60" width="4" height="4" fill="#950812"/>
<rect x="1300.00" y="817.40" width="4" height="4" fill="#950812"/>
<rect x="1364.20" y="775.80" width="4" height="4" fill="#950812"/>
<rect x="1460.80" y="704.50" width="4" height="4" fill="#950812"/>
<rect x="1525.00" y="668.60" width="4" height="4" fill="#950812"/>
<line x1="1366.20" y1="772.00" x2="1366.20" y2="783.50" stroke="#950812" stroke-width="1.4"/>
<line x1="1362.70" y1="772.00" x2="1369.70" y2="772.00" stroke="#950812" stroke-width="1.4"/>
<line x1="1362.70" y1="783.50" x2="1369.70" y2="783.50" stroke="#950812" stroke-width="1.4"/>
<line x1="1462.80" y1="700.50" x2="1462.80" y2="712.50" stroke="#950812" stroke-width="1.4"/>
<line x1="1459.30" y1="700.50" x2="1466.30" y2="700.50" stroke="#950812" stroke-width="1.4"/>
<line x1="1459.30" y1="712.50" x2="1466.30" y2="712.50" stroke="#950812" stroke-width="1.4"/>
<line x1="1527.00" y1="665.50" x2="1527.00" y2="675.50" stroke="#950812" stroke-width="1.4"/>
<line x1="1523.50" y1="665.50" x2="1530.50" y2="665.50" stroke="#950812" stroke-width="1.4"/>
<line x1="1523.50" y1="675.50" x2="1530.50" y2="675.50" stroke="#950812" stroke-width="1.4"/>
<polyline points="1011.70,982.80 1075.20,955.60 1139.10,912.70 1237.60,866.70 1302.00,836.00 1366.20,777.80 1462.80,701.80 1527.00,666.70" fill="none" stroke="#25663a" stroke-width="2.1" stroke-linejoin="round"/>
<rect x="1073.20" y="953.60" width="4" height="4" fill="#25663a"/>
<rect x="1137.10" y="910.70" width="4" height="4" fill="#25663a"/>
<rect x="1235.60" y="864.70" width="4" height="4" fill="#25663a"/>
<rect x="1300.00" y="834.00" width="4" height="4" fill="#25663a"/>
<rect x="1364.20" y="775.80" width="4" height="4" fill="#25663a"/>
<rect x="1460.80" y="699.80" width="4" height="4" fill="#25663a"/>
<rect x="1525.00" y="664.70" width="4" height="4" fill="#25663a"/>
<polyline points="1011.70,982.80 1075.20,958.30 1139.10,914.70 1237.60,886.20 1302.00,886.20 1366.20,908.00 1462.80,932.20 1527.00,924.00" fill="none" stroke="#6a9bd7" stroke-width="2.1" stroke-linejoin="round"/>
<rect x="1073.20" y="956.30" width="4" height="4" fill="#6a9bd7"/>
<rect x="1137.10" y="912.70" width="4" height="4" fill="#6a9bd7"/>
<rect x="1235.60" y="884.20" width="4" height="4" fill="#6a9bd7"/>
<rect x="1300.00" y="884.20" width="4" height="4" fill="#6a9bd7"/>
<rect x="1364.20" y="906.00" width="4" height="4" fill="#6a9bd7"/>
<rect x="1460.80" y="930.20" width="4" height="4" fill="#6a9bd7"/>
<rect x="1525.00" y="922.00" width="4" height="4" fill="#6a9bd7"/>
<line x1="1302.00" y1="882.50" x2="1302.00" y2="890.00" stroke="#6a9bd7" stroke-width="1.4"/>
<line x1="1298.50" y1="882.50" x2="1305.50" y2="882.50" stroke="#6a9bd7" stroke-width="1.4"/>
<line x1="1298.50" y1="890.00" x2="1305.50" y2="890.00" stroke="#6a9bd7" stroke-width="1.4"/>
<line x1="1366.20" y1="900.20" x2="1366.20" y2="916.60" stroke="#6a9bd7" stroke-width="1.4"/>
<line x1="1362.70" y1="900.20" x2="1369.70" y2="900.20" stroke="#6a9bd7" stroke-width="1.4"/>
<line x1="1362.70" y1="916.60" x2="1369.70" y2="916.60" stroke="#6a9bd7" stroke-width="1.4"/>
<line x1="1462.80" y1="918.20" x2="1462.80" y2="955.60" stroke="#6a9bd7" stroke-width="1.4"/>
<line x1="1459.30" y1="918.20" x2="1466.30" y2="918.20" stroke="#6a9bd7" stroke-width="1.4"/>
<line x1="1459.30" y1="955.60" x2="1466.30" y2="955.60" stroke="#6a9bd7" stroke-width="1.4"/>
<line x1="1527.00" y1="901.80" x2="1527.00" y2="989.50" stroke="#6a9bd7" stroke-width="1.4"/>
<line x1="1523.50" y1="901.80" x2="1530.50" y2="901.80" stroke="#6a9bd7" stroke-width="1.4"/>
<line x1="1523.50" y1="989.50" x2="1530.50" y2="989.50" stroke="#6a9bd7" stroke-width="1.4"/>
<line x1="1045.20" y1="619.20" x2="1069.90" y2="619.20" stroke="#272b77" stroke-width="2"/>
<text x="1082.49" y="629.90" font-size="29.4" fill="#231f20">DMSO</text>
<line x1="1045.20" y1="660.30" x2="1069.90" y2="660.30" stroke="#950812" stroke-width="2"/>
<text x="1080.49" y="670.40" font-size="29.4" fill="#231f20">BSO</text>
<line x1="1045.20" y1="701.80" x2="1069.90" y2="701.80" stroke="#25663a" stroke-width="2"/>
<text x="1082.37" y="711.10" font-size="29.4" fill="#231f20">Venetoclax</text>
<line x1="1045.20" y1="742.80" x2="1069.90" y2="742.80" stroke="#6a9bd7" stroke-width="2"/>
<text x="1082.37" y="751.30" font-size="29.4" fill="#231f20">Venetoclax + BSO</text>
<text x="1002.78" y="546.30" font-size="36.85" fill="#231f20">MOLM-13 Venetoclax-resistant</text>
<text transform="translate(870.40,867.60) rotate(-90)" text-anchor="middle" font-size="33" fill="#231f20">cumulative cell number (log)</text>
<text x="1237.55" y="1194.00" font-size="33" fill="#231f20">days</text>
<path d="M215.60,1338.40 H235.60 V1840.50 H753.20" fill="none" stroke="#231f20" stroke-width="1.8"/>
<text x="128.77" y="1349.30" font-size="33" fill="#231f20">1x10</text>
<text x="200.33" y="1338.60" font-size="19" fill="#231f20">9</text>
<line x1="215.60" y1="1422.00" x2="235.60" y2="1422.00" stroke="#231f20" stroke-width="1.8"/>
<text x="128.70" y="1428.30" font-size="33" fill="#231f20">1x10</text>
<text x="200.26" y="1417.60" font-size="19" fill="#231f20">8</text>
<line x1="215.60" y1="1505.60" x2="235.60" y2="1505.60" stroke="#231f20" stroke-width="1.8"/>
<text x="128.83" y="1511.10" font-size="33" fill="#231f20">1x10</text>
<text x="200.39" y="1500.40" font-size="19" fill="#231f20">7</text>
<line x1="215.60" y1="1589.20" x2="235.60" y2="1589.20" stroke="#231f20" stroke-width="1.8"/>
<text x="128.71" y="1596.40" font-size="33" fill="#231f20">1x10</text>
<text x="200.27" y="1585.70" font-size="19" fill="#231f20">6</text>
<line x1="215.60" y1="1672.80" x2="235.60" y2="1672.80" stroke="#231f20" stroke-width="1.8"/>
<text x="128.67" y="1682.60" font-size="33" fill="#231f20">1x10</text>
<text x="200.23" y="1671.90" font-size="19" fill="#231f20">5</text>
<line x1="215.60" y1="1756.40" x2="235.60" y2="1756.40" stroke="#231f20" stroke-width="1.8"/>
<text x="128.43" y="1761.10" font-size="33" fill="#231f20">1x10</text>
<text x="199.99" y="1750.40" font-size="19" fill="#231f20">4</text>
<line x1="235.80" y1="1840.50" x2="235.80" y2="1850.50" stroke="#231f20" stroke-width="1.8"/>
<text x="229.12" y="1880.80" font-size="33" fill="#231f20">0</text>
<line x1="310.90" y1="1840.50" x2="310.90" y2="1850.50" stroke="#231f20" stroke-width="1.8"/>
<text x="304.02" y="1880.80" font-size="33" fill="#231f20">2</text>
<line x1="382.50" y1="1840.50" x2="382.50" y2="1850.50" stroke="#231f20" stroke-width="1.8"/>
<text x="375.33" y="1880.80" font-size="33" fill="#231f20">4</text>
<line x1="457.20" y1="1840.50" x2="457.20" y2="1850.50" stroke="#231f20" stroke-width="1.8"/>
<text x="450.71" y="1880.80" font-size="33" fill="#231f20">6</text>
<line x1="528.60" y1="1840.50" x2="528.60" y2="1850.50" stroke="#231f20" stroke-width="1.8"/>
<text x="522.42" y="1880.80" font-size="33" fill="#231f20">8</text>
<line x1="603.00" y1="1840.50" x2="603.00" y2="1850.50" stroke="#231f20" stroke-width="1.8"/>
<text x="589.63" y="1880.80" font-size="33" fill="#231f20">10</text>
<line x1="676.80" y1="1840.50" x2="676.80" y2="1850.50" stroke="#231f20" stroke-width="1.8"/>
<text x="661.32" y="1880.80" font-size="33" fill="#231f20">12</text>
<line x1="750.50" y1="1840.50" x2="750.50" y2="1850.50" stroke="#231f20" stroke-width="1.8"/>
<text x="735.87" y="1880.80" font-size="33" fill="#231f20">14</text>
<line x1="493.50" y1="1339.90" x2="493.50" y2="1839.00" stroke="#76777a" stroke-width="2.2" stroke-dasharray="0 4.37" stroke-linecap="round"/>
<line x1="676.70" y1="1339.90" x2="676.70" y2="1839.00" stroke="#76777a" stroke-width="2.2" stroke-dasharray="0 4.37" stroke-linecap="round"/>
<polyline points="235.60,1623.10 311.00,1580.80 419.70,1536.10 493.50,1505.50 567.00,1466.00 676.70,1418.70 751.20,1386.00" fill="none" stroke="#272b77" stroke-width="2.1" stroke-linejoin="round"/>
<rect x="309.00" y="1578.80" width="4" height="4" fill="#272b77"/>
<rect x="417.70" y="1534.10" width="4" height="4" fill="#272b77"/>
<rect x="491.50" y="1503.50" width="4" height="4" fill="#272b77"/>
<rect x="565.00" y="1464.00" width="4" height="4" fill="#272b77"/>
<rect x="674.70" y="1416.70" width="4" height="4" fill="#272b77"/>
<rect x="749.20" y="1384.00" width="4" height="4" fill="#272b77"/>
<line x1="419.70" y1="1533.00" x2="419.70" y2="1539.50" stroke="#272b77" stroke-width="1.4"/>
<line x1="416.20" y1="1533.00" x2="423.20" y2="1533.00" stroke="#272b77" stroke-width="1.4"/>
<line x1="416.20" y1="1539.50" x2="423.20" y2="1539.50" stroke="#272b77" stroke-width="1.4"/>
<line x1="493.50" y1="1502.00" x2="493.50" y2="1509.00" stroke="#272b77" stroke-width="1.4"/>
<line x1="490.00" y1="1502.00" x2="497.00" y2="1502.00" stroke="#272b77" stroke-width="1.4"/>
<line x1="490.00" y1="1509.00" x2="497.00" y2="1509.00" stroke="#272b77" stroke-width="1.4"/>
<polyline points="235.60,1623.10 311.00,1583.60 419.70,1547.30 493.50,1518.40 567.00,1481.00 676.70,1442.00 751.20,1407.00" fill="none" stroke="#950812" stroke-width="2.1" stroke-linejoin="round"/>
<rect x="309.00" y="1581.60" width="4" height="4" fill="#950812"/>
<rect x="417.70" y="1545.30" width="4" height="4" fill="#950812"/>
<rect x="491.50" y="1516.40" width="4" height="4" fill="#950812"/>
<rect x="565.00" y="1479.00" width="4" height="4" fill="#950812"/>
<rect x="674.70" y="1440.00" width="4" height="4" fill="#950812"/>
<rect x="749.20" y="1405.00" width="4" height="4" fill="#950812"/>
<polyline points="235.60,1623.10 311.00,1604.40 419.70,1558.20 493.50,1520.00 567.00,1499.20 676.70,1460.30 751.20,1448.60" fill="none" stroke="#25663a" stroke-width="2.1" stroke-linejoin="round"/>
<rect x="309.00" y="1602.40" width="4" height="4" fill="#25663a"/>
<rect x="417.70" y="1556.20" width="4" height="4" fill="#25663a"/>
<rect x="491.50" y="1518.00" width="4" height="4" fill="#25663a"/>
<rect x="565.00" y="1497.20" width="4" height="4" fill="#25663a"/>
<rect x="674.70" y="1458.30" width="4" height="4" fill="#25663a"/>
<rect x="749.20" y="1446.60" width="4" height="4" fill="#25663a"/>
<polyline points="235.60,1623.10 311.00,1614.00 419.70,1595.30 493.50,1576.40 567.00,1602.60 676.70,1700.80 751.20,1760.00" fill="none" stroke="#6a9bd7" stroke-width="2.1" stroke-linejoin="round"/>
<rect x="309.00" y="1612.00" width="4" height="4" fill="#6a9bd7"/>
<rect x="417.70" y="1593.30" width="4" height="4" fill="#6a9bd7"/>
<rect x="491.50" y="1574.40" width="4" height="4" fill="#6a9bd7"/>
<rect x="565.00" y="1600.60" width="4" height="4" fill="#6a9bd7"/>
<rect x="674.70" y="1698.80" width="4" height="4" fill="#6a9bd7"/>
<rect x="749.20" y="1758.00" width="4" height="4" fill="#6a9bd7"/>
<line x1="567.00" y1="1598.40" x2="567.00" y2="1606.20" stroke="#6a9bd7" stroke-width="1.4"/>
<line x1="563.50" y1="1598.40" x2="570.50" y2="1598.40" stroke="#6a9bd7" stroke-width="1.4"/>
<line x1="563.50" y1="1606.20" x2="570.50" y2="1606.20" stroke="#6a9bd7" stroke-width="1.4"/>
<line x1="751.20" y1="1754.30" x2="751.20" y2="1767.00" stroke="#6a9bd7" stroke-width="1.4"/>
<line x1="747.70" y1="1754.30" x2="754.70" y2="1754.30" stroke="#6a9bd7" stroke-width="1.4"/>
<line x1="747.70" y1="1767.00" x2="754.70" y2="1767.00" stroke="#6a9bd7" stroke-width="1.4"/>
<line x1="270.00" y1="1340.50" x2="294.30" y2="1340.50" stroke="#272b77" stroke-width="2"/>
<text x="307.49" y="1350.80" font-size="29.4" fill="#231f20">DMSO</text>
<line x1="270.00" y1="1381.80" x2="294.30" y2="1381.80" stroke="#950812" stroke-width="2"/>
<text x="305.49" y="1391.00" font-size="29.4" fill="#231f20">BSO</text>
<line x1="270.00" y1="1423.40" x2="294.30" y2="1423.40" stroke="#25663a" stroke-width="2"/>
<text x="307.37" y="1431.50" font-size="29.4" fill="#231f20">Venetoclax</text>
<line x1="270.00" y1="1464.40" x2="294.30" y2="1464.40" stroke="#6a9bd7" stroke-width="2"/>
<text x="307.37" y="1471.40" font-size="29.4" fill="#231f20">Venetoclax + BSO</text>
<text x="237.98" y="1296.00" font-size="36.8" fill="#231f20">MOLM-13-Cas9 AAVS1.1 clone</text>
<text transform="translate(96.80,1586.00) rotate(-90)" text-anchor="middle" font-size="33" fill="#231f20">cumulative cell number (log)</text>
<text x="457.05" y="1914.50" font-size="33" fill="#231f20">days</text>
<text x="415.45" y="1829.40" font-size="29.5" fill="#231f20">1 nM</text>
<text x="555.42" y="1829.40" font-size="29.5" fill="#231f20">5 nM</text>
<text x="682.15" y="1829.40" font-size="29.5" fill="#231f20">10 nM</text>
<path d="M999.50,1338.70 H1019.50 V1840.50 H1537.20" fill="none" stroke="#231f20" stroke-width="1.8"/>
<text x="906.57" y="1352.90" font-size="33" fill="#231f20">1x10</text>
<text x="978.13" y="1342.20" font-size="19" fill="#231f20">9</text>
<line x1="999.50" y1="1422.30" x2="1019.50" y2="1422.30" stroke="#231f20" stroke-width="1.8"/>
<text x="906.50" y="1432.40" font-size="33" fill="#231f20">1x10</text>
<text x="978.06" y="1421.70" font-size="19" fill="#231f20">8</text>
<line x1="999.50" y1="1505.90" x2="1019.50" y2="1505.90" stroke="#231f20" stroke-width="1.8"/>
<text x="906.63" y="1514.90" font-size="33" fill="#231f20">1x10</text>
<text x="978.19" y="1504.20" font-size="19" fill="#231f20">7</text>
<line x1="999.50" y1="1589.50" x2="1019.50" y2="1589.50" stroke="#231f20" stroke-width="1.8"/>
<text x="906.51" y="1599.90" font-size="33" fill="#231f20">1x10</text>
<text x="978.07" y="1589.20" font-size="19" fill="#231f20">6</text>
<line x1="999.50" y1="1673.10" x2="1019.50" y2="1673.10" stroke="#231f20" stroke-width="1.8"/>
<text x="906.47" y="1686.80" font-size="33" fill="#231f20">1x10</text>
<text x="978.03" y="1676.10" font-size="19" fill="#231f20">5</text>
<line x1="999.50" y1="1756.70" x2="1019.50" y2="1756.70" stroke="#231f20" stroke-width="1.8"/>
<text x="906.23" y="1764.90" font-size="33" fill="#231f20">1x10</text>
<text x="977.79" y="1754.20" font-size="19" fill="#231f20">4</text>
<line x1="1019.70" y1="1840.50" x2="1019.70" y2="1850.50" stroke="#231f20" stroke-width="1.8"/>
<text x="1013.12" y="1880.80" font-size="33" fill="#231f20">0</text>
<line x1="1094.50" y1="1840.50" x2="1094.50" y2="1850.50" stroke="#231f20" stroke-width="1.8"/>
<text x="1087.92" y="1880.80" font-size="33" fill="#231f20">2</text>
<line x1="1165.90" y1="1840.50" x2="1165.90" y2="1850.50" stroke="#231f20" stroke-width="1.8"/>
<text x="1159.33" y="1880.80" font-size="33" fill="#231f20">4</text>
<line x1="1241.30" y1="1840.50" x2="1241.30" y2="1850.50" stroke="#231f20" stroke-width="1.8"/>
<text x="1234.51" y="1880.80" font-size="33" fill="#231f20">6</text>
<line x1="1312.90" y1="1840.50" x2="1312.90" y2="1850.50" stroke="#231f20" stroke-width="1.8"/>
<text x="1306.42" y="1880.80" font-size="33" fill="#231f20">8</text>
<line x1="1386.80" y1="1840.50" x2="1386.80" y2="1850.50" stroke="#231f20" stroke-width="1.8"/>
<text x="1373.73" y="1880.80" font-size="33" fill="#231f20">10</text>
<line x1="1460.80" y1="1840.50" x2="1460.80" y2="1850.50" stroke="#231f20" stroke-width="1.8"/>
<text x="1445.42" y="1880.80" font-size="33" fill="#231f20">12</text>
<line x1="1534.60" y1="1840.50" x2="1534.60" y2="1850.50" stroke="#231f20" stroke-width="1.8"/>
<text x="1519.97" y="1880.80" font-size="33" fill="#231f20">14</text>
<line x1="1277.60" y1="1340.20" x2="1277.60" y2="1839.00" stroke="#76777a" stroke-width="2.2" stroke-dasharray="0 4.37" stroke-linecap="round"/>
<line x1="1460.40" y1="1340.20" x2="1460.40" y2="1839.00" stroke="#76777a" stroke-width="2.2" stroke-dasharray="0 4.37" stroke-linecap="round"/>
<polyline points="1019.50,1626.20 1094.00,1597.70 1203.70,1559.70 1277.60,1527.60 1350.60,1489.40 1460.40,1448.60 1534.40,1416.30" fill="none" stroke="#272b77" stroke-width="2.1" stroke-linejoin="round"/>
<rect x="1092.00" y="1595.70" width="4" height="4" fill="#272b77"/>
<rect x="1201.70" y="1557.70" width="4" height="4" fill="#272b77"/>
<rect x="1275.60" y="1525.60" width="4" height="4" fill="#272b77"/>
<rect x="1348.60" y="1487.40" width="4" height="4" fill="#272b77"/>
<rect x="1458.40" y="1446.60" width="4" height="4" fill="#272b77"/>
<rect x="1532.40" y="1414.30" width="4" height="4" fill="#272b77"/>
<polyline points="1019.50,1626.20 1094.00,1600.40 1203.70,1574.00 1277.60,1547.80 1350.60,1516.10 1460.40,1488.80 1534.40,1463.00" fill="none" stroke="#950812" stroke-width="2.1" stroke-linejoin="round"/>
<rect x="1092.00" y="1598.40" width="4" height="4" fill="#950812"/>
<rect x="1201.70" y="1572.00" width="4" height="4" fill="#950812"/>
<rect x="1275.60" y="1545.80" width="4" height="4" fill="#950812"/>
<rect x="1348.60" y="1514.10" width="4" height="4" fill="#950812"/>
<rect x="1458.40" y="1486.80" width="4" height="4" fill="#950812"/>
<rect x="1532.40" y="1461.00" width="4" height="4" fill="#950812"/>
<polyline points="1019.50,1626.20 1094.00,1645.20 1203.70,1595.50 1277.60,1563.20 1350.60,1563.30 1460.40,1545.60 1534.40,1546.40" fill="none" stroke="#25663a" stroke-width="2.1" stroke-linejoin="round"/>
<rect x="1092.00" y="1643.20" width="4" height="4" fill="#25663a"/>
<rect x="1201.70" y="1593.50" width="4" height="4" fill="#25663a"/>
<rect x="1275.60" y="1561.20" width="4" height="4" fill="#25663a"/>
<rect x="1348.60" y="1561.30" width="4" height="4" fill="#25663a"/>
<rect x="1458.40" y="1543.60" width="4" height="4" fill="#25663a"/>
<rect x="1532.40" y="1544.40" width="4" height="4" fill="#25663a"/>
<line x1="1277.60" y1="1560.00" x2="1277.60" y2="1566.50" stroke="#25663a" stroke-width="1.4"/>
<line x1="1274.10" y1="1560.00" x2="1281.10" y2="1560.00" stroke="#25663a" stroke-width="1.4"/>
<line x1="1274.10" y1="1566.50" x2="1281.10" y2="1566.50" stroke="#25663a" stroke-width="1.4"/>
<line x1="1460.40" y1="1542.50" x2="1460.40" y2="1548.50" stroke="#25663a" stroke-width="1.4"/>
<line x1="1456.90" y1="1542.50" x2="1463.90" y2="1542.50" stroke="#25663a" stroke-width="1.4"/>
<line x1="1456.90" y1="1548.50" x2="1463.90" y2="1548.50" stroke="#25663a" stroke-width="1.4"/>
<line x1="1534.40" y1="1543.50" x2="1534.40" y2="1549.50" stroke="#25663a" stroke-width="1.4"/>
<line x1="1530.90" y1="1543.50" x2="1537.90" y2="1543.50" stroke="#25663a" stroke-width="1.4"/>
<line x1="1530.90" y1="1549.50" x2="1537.90" y2="1549.50" stroke="#25663a" stroke-width="1.4"/>
<polyline points="1019.50,1626.20 1094.00,1660.00 1203.70,1754.80 1277.60,1830.00 1350.60,1809.50 1460.40,1812.00 1534.40,1817.00" fill="none" stroke="#6a9bd7" stroke-width="2.1" stroke-linejoin="round"/>
<rect x="1092.00" y="1658.00" width="4" height="4" fill="#6a9bd7"/>
<rect x="1201.70" y="1752.80" width="4" height="4" fill="#6a9bd7"/>
<rect x="1275.60" y="1828.00" width="4" height="4" fill="#6a9bd7"/>
<rect x="1348.60" y="1807.50" width="4" height="4" fill="#6a9bd7"/>
<rect x="1458.40" y="1810.00" width="4" height="4" fill="#6a9bd7"/>
<rect x="1532.40" y="1815.00" width="4" height="4" fill="#6a9bd7"/>
<line x1="1203.70" y1="1751.00" x2="1203.70" y2="1758.40" stroke="#6a9bd7" stroke-width="1.4"/>
<line x1="1200.20" y1="1751.00" x2="1207.20" y2="1751.00" stroke="#6a9bd7" stroke-width="1.4"/>
<line x1="1200.20" y1="1758.40" x2="1207.20" y2="1758.40" stroke="#6a9bd7" stroke-width="1.4"/>
<line x1="1277.60" y1="1823.00" x2="1277.60" y2="1838.00" stroke="#6a9bd7" stroke-width="1.4"/>
<line x1="1274.10" y1="1823.00" x2="1281.10" y2="1823.00" stroke="#6a9bd7" stroke-width="1.4"/>
<line x1="1274.10" y1="1838.00" x2="1281.10" y2="1838.00" stroke="#6a9bd7" stroke-width="1.4"/>
<line x1="1350.60" y1="1803.50" x2="1350.60" y2="1817.00" stroke="#6a9bd7" stroke-width="1.4"/>
<line x1="1347.10" y1="1803.50" x2="1354.10" y2="1803.50" stroke="#6a9bd7" stroke-width="1.4"/>
<line x1="1347.10" y1="1817.00" x2="1354.10" y2="1817.00" stroke="#6a9bd7" stroke-width="1.4"/>
<line x1="1460.40" y1="1797.00" x2="1460.40" y2="1837.20" stroke="#6a9bd7" stroke-width="1.4"/>
<line x1="1456.90" y1="1797.00" x2="1463.90" y2="1797.00" stroke="#6a9bd7" stroke-width="1.4"/>
<line x1="1456.90" y1="1837.20" x2="1463.90" y2="1837.20" stroke="#6a9bd7" stroke-width="1.4"/>
<line x1="1534.40" y1="1815.00" x2="1534.40" y2="1820.00" stroke="#6a9bd7" stroke-width="1.4"/>
<line x1="1530.90" y1="1815.00" x2="1537.90" y2="1815.00" stroke="#6a9bd7" stroke-width="1.4"/>
<line x1="1530.90" y1="1820.00" x2="1537.90" y2="1820.00" stroke="#6a9bd7" stroke-width="1.4"/>
<line x1="1054.00" y1="1340.50" x2="1078.70" y2="1340.50" stroke="#272b77" stroke-width="2"/>
<text x="1091.89" y="1351.20" font-size="29.4" fill="#231f20">DMSO</text>
<line x1="1054.00" y1="1381.60" x2="1078.70" y2="1381.60" stroke="#950812" stroke-width="2"/>
<text x="1089.89" y="1391.40" font-size="29.4" fill="#231f20">BSO</text>
<line x1="1054.00" y1="1423.10" x2="1078.70" y2="1423.10" stroke="#25663a" stroke-width="2"/>
<text x="1091.77" y="1431.90" font-size="29.4" fill="#231f20">Venetoclax</text>
<line x1="1054.00" y1="1464.70" x2="1078.70" y2="1464.70" stroke="#6a9bd7" stroke-width="2"/>
<text x="1091.77" y="1472.00" font-size="29.4" fill="#231f20">Venetoclax + BSO</text>
<text x="1022.48" y="1296.50" font-size="36.8" fill="#231f20">MOLM-13-Cas9 ABCC1-KO-2 clone</text>
<text transform="translate(873.80,1589.60) rotate(-90)" text-anchor="middle" font-size="33" fill="#231f20">cumulative cell number (log)</text>
<text x="1241.35" y="1914.80" font-size="33" fill="#231f20">days</text>
<text x="1193.45" y="1834.20" font-size="29.5" fill="#231f20">1 nM</text>
<text x="1334.32" y="1834.20" font-size="29.5" fill="#231f20">5 nM</text>
<text x="1460.45" y="1834.20" font-size="29.5" fill="#231f20">10 nM</text>
<path d="M248.40,2024.40 V2337.00 M239.50,2337.00 H707.90" fill="none" stroke="#6d6e71" stroke-width="1.8"/>
<line x1="239.50" y1="2054.20" x2="248.40" y2="2054.20" stroke="#6d6e71" stroke-width="1.8"/>
<text x="176.89" y="2061.50" font-size="33" fill="#231f20">100</text>
<line x1="239.50" y1="2110.90" x2="248.40" y2="2110.90" stroke="#6d6e71" stroke-width="1.8"/>
<text x="188.47" y="2118.20" font-size="33" fill="#231f20">80</text>
<line x1="239.50" y1="2167.30" x2="248.40" y2="2167.30" stroke="#6d6e71" stroke-width="1.8"/>
<text x="188.22" y="2174.60" font-size="33" fill="#231f20">60</text>
<line x1="239.50" y1="2223.60" x2="248.40" y2="2223.60" stroke="#6d6e71" stroke-width="1.8"/>
<text x="189.14" y="2230.90" font-size="33" fill="#231f20">40</text>
<line x1="239.50" y1="2280.60" x2="248.40" y2="2280.60" stroke="#6d6e71" stroke-width="1.8"/>
<text x="187.94" y="2287.90" font-size="33" fill="#231f20">20</text>
<text x="201.71" y="2344.30" font-size="33" fill="#231f20">0</text>
<line x1="362.50" y1="2337.00" x2="362.50" y2="2344.50" stroke="#6d6e71" stroke-width="1.8"/>
<line x1="591.10" y1="2337.00" x2="591.10" y2="2344.50" stroke="#6d6e71" stroke-width="1.8"/>
<text x="293.16" y="2377.10" font-size="31.7" fill="#231f20">patient 1</text>
<text x="537.56" y="2377.10" font-size="31.7" fill="#231f20">patient 2</text>
<text x="331.14" y="2000.10" font-size="36.6" fill="#231f20">Venetoclax</text>
<text transform="translate(161.00,2179.80) rotate(-90)" text-anchor="middle" font-size="33" fill="#231f20">% viability</text>
<line x1="314.80" y1="2044.20" x2="314.80" y2="2148.20" stroke="#1e5b2d" stroke-width="2"/>
<line x1="296.10" y1="2044.20" x2="333.50" y2="2044.20" stroke="#1e5b2d" stroke-width="2"/>
<line x1="296.10" y1="2148.20" x2="333.50" y2="2148.20" stroke="#1e5b2d" stroke-width="2"/>
<line x1="276.80" y1="2096.40" x2="352.80" y2="2096.40" stroke="#1e5b2d" stroke-width="2"/>
<polygon points="314.80,2044.56 322.55,2058.82 307.05,2058.82" fill="#1e5b2d"/>
<polygon points="314.80,2073.86 322.55,2088.12 307.05,2088.12" fill="#1e5b2d"/>
<polygon points="314.80,2145.56 322.55,2159.82 307.05,2159.82" fill="#1e5b2d"/>
<line x1="409.90" y1="2174.80" x2="409.90" y2="2221.70" stroke="#6b9bd6" stroke-width="2"/>
<line x1="391.20" y1="2174.80" x2="429.20" y2="2174.80" stroke="#6b9bd6" stroke-width="2"/>
<line x1="391.20" y1="2221.70" x2="429.20" y2="2221.70" stroke="#6b9bd6" stroke-width="2"/>
<line x1="372.50" y1="2197.60" x2="448.20" y2="2197.60" stroke="#6b9bd6" stroke-width="2"/>
<circle cx="409.90" cy="2175.00" r="7.6" fill="#6b9bd6"/>
<circle cx="409.90" cy="2197.40" r="7.6" fill="#6b9bd6"/>
<circle cx="409.90" cy="2221.70" r="7.6" fill="#6b9bd6"/>
<line x1="543.90" y1="2082.10" x2="543.90" y2="2113.30" stroke="#1e5b2d" stroke-width="2"/>
<line x1="525.20" y1="2082.10" x2="562.60" y2="2082.10" stroke="#1e5b2d" stroke-width="2"/>
<line x1="525.20" y1="2113.30" x2="562.60" y2="2113.30" stroke="#1e5b2d" stroke-width="2"/>
<line x1="505.90" y1="2097.70" x2="582.00" y2="2097.70" stroke="#1e5b2d" stroke-width="2"/>
<polygon points="543.90,2073.26 551.65,2087.52 536.15,2087.52" fill="#1e5b2d"/>
<polygon points="553.30,2089.76 561.05,2104.02 545.55,2104.02" fill="#1e5b2d"/>
<polygon points="534.60,2104.46 542.35,2118.72 526.85,2118.72" fill="#1e5b2d"/>
<line x1="639.00" y1="2177.20" x2="639.00" y2="2196.50" stroke="#6b9bd6" stroke-width="2"/>
<line x1="620.30" y1="2177.20" x2="657.70" y2="2177.20" stroke="#6b9bd6" stroke-width="2"/>
<line x1="620.30" y1="2196.50" x2="657.70" y2="2196.50" stroke="#6b9bd6" stroke-width="2"/>
<line x1="601.00" y1="2186.50" x2="678.00" y2="2186.50" stroke="#6b9bd6" stroke-width="2"/>
<circle cx="620.90" cy="2179.40" r="7.6" fill="#6b9bd6"/>
<circle cx="657.70" cy="2182.80" r="7.6" fill="#6b9bd6"/>
<circle cx="639.00" cy="2196.80" r="7.6" fill="#6b9bd6"/>
<polygon points="310.10,2420.16 319.60,2437.64 300.60,2437.64" fill="#1e5b2d"/>
<circle cx="310.10" cy="2481.40" r="9" fill="#6b9bd6"/>
<text x="334.17" y="2437.30" font-size="29.4" fill="#231f20">drug + DMSO</text>
<text x="334.17" y="2489.50" font-size="29.4" fill="#231f20">drug + BSO</text>
<path d="M1051.70,2023.90 V2336.30 M1042.60,2336.30 H1510.10" fill="none" stroke="#6d6e71" stroke-width="1.8"/>
<line x1="1042.60" y1="2053.80" x2="1051.70" y2="2053.80" stroke="#6d6e71" stroke-width="1.8"/>
<text x="979.39" y="2061.10" font-size="33" fill="#231f20">100</text>
<line x1="1042.60" y1="2110.40" x2="1051.70" y2="2110.40" stroke="#6d6e71" stroke-width="1.8"/>
<text x="990.87" y="2117.70" font-size="33" fill="#231f20">80</text>
<line x1="1042.60" y1="2166.90" x2="1051.70" y2="2166.90" stroke="#6d6e71" stroke-width="1.8"/>
<text x="990.62" y="2174.20" font-size="33" fill="#231f20">60</text>
<line x1="1042.60" y1="2223.40" x2="1051.70" y2="2223.40" stroke="#6d6e71" stroke-width="1.8"/>
<text x="991.54" y="2230.70" font-size="33" fill="#231f20">40</text>
<line x1="1042.60" y1="2279.50" x2="1051.70" y2="2279.50" stroke="#6d6e71" stroke-width="1.8"/>
<text x="990.64" y="2286.80" font-size="33" fill="#231f20">20</text>
<text x="1003.91" y="2343.60" font-size="33" fill="#231f20">0</text>
<line x1="1165.20" y1="2336.30" x2="1165.20" y2="2343.80" stroke="#6d6e71" stroke-width="1.8"/>
<line x1="1394.60" y1="2336.30" x2="1394.60" y2="2343.80" stroke="#6d6e71" stroke-width="1.8"/>
<text x="1096.66" y="2377.50" font-size="31.7" fill="#231f20">patient 1</text>
<text x="1341.86" y="2377.50" font-size="31.7" fill="#231f20">patient 2</text>
<text x="1141.83" y="2000.10" font-size="36.6" fill="#231f20">AZD-4320</text>
<text transform="translate(964.40,2174.50) rotate(-90)" text-anchor="middle" font-size="33" fill="#231f20">% viability</text>
<line x1="1117.60" y1="2114.50" x2="1117.60" y2="2141.50" stroke="#a2a3a6" stroke-width="2"/>
<line x1="1098.70" y1="2114.50" x2="1136.90" y2="2114.50" stroke="#a2a3a6" stroke-width="2"/>
<line x1="1098.70" y1="2141.50" x2="1136.90" y2="2141.50" stroke="#a2a3a6" stroke-width="2"/>
<line x1="1079.60" y1="2127.80" x2="1155.60" y2="2127.80" stroke="#a2a3a6" stroke-width="2"/>
<polygon points="1118.20,2107.36 1125.95,2121.62 1110.45,2121.62" fill="#a2a3a6"/>
<polygon points="1127.80,2118.96 1135.55,2133.22 1120.05,2133.22" fill="#a2a3a6"/>
<polygon points="1109.90,2134.76 1117.65,2149.02 1102.15,2149.02" fill="#a2a3a6"/>
<line x1="1214.00" y1="2229.60" x2="1214.00" y2="2254.60" stroke="#f6a04b" stroke-width="2"/>
<line x1="1195.10" y1="2229.60" x2="1233.30" y2="2229.60" stroke="#f6a04b" stroke-width="2"/>
<line x1="1195.10" y1="2254.60" x2="1233.30" y2="2254.60" stroke="#f6a04b" stroke-width="2"/>
<line x1="1175.60" y1="2242.10" x2="1252.40" y2="2242.10" stroke="#f6a04b" stroke-width="2"/>
<circle cx="1204.70" cy="2233.00" r="7.6" fill="#f6a04b"/>
<circle cx="1223.40" cy="2236.70" r="7.6" fill="#f6a04b"/>
<circle cx="1213.80" cy="2255.80" r="7.6" fill="#f6a04b"/>
<line x1="1349.00" y1="2094.60" x2="1349.00" y2="2149.40" stroke="#a2a3a6" stroke-width="2"/>
<line x1="1330.20" y1="2094.60" x2="1368.40" y2="2094.60" stroke="#a2a3a6" stroke-width="2"/>
<line x1="1330.20" y1="2149.40" x2="1368.40" y2="2149.40" stroke="#a2a3a6" stroke-width="2"/>
<line x1="1310.60" y1="2122.00" x2="1387.10" y2="2122.00" stroke="#a2a3a6" stroke-width="2"/>
<polygon points="1340.60,2092.76 1348.35,2107.02 1332.85,2107.02" fill="#a2a3a6"/>
<polygon points="1359.30,2103.16 1367.05,2117.42 1351.55,2117.42" fill="#a2a3a6"/>
<polygon points="1350.10,2144.76 1357.85,2159.02 1342.35,2159.02" fill="#a2a3a6"/>
<line x1="1445.50" y1="2201.80" x2="1445.50" y2="2221.30" stroke="#f6a04b" stroke-width="2"/>
<line x1="1427.00" y1="2201.80" x2="1464.40" y2="2201.80" stroke="#f6a04b" stroke-width="2"/>
<line x1="1427.00" y1="2221.30" x2="1464.40" y2="2221.30" stroke="#f6a04b" stroke-width="2"/>
<line x1="1407.00" y1="2211.80" x2="1484.00" y2="2211.80" stroke="#f6a04b" stroke-width="2"/>
<circle cx="1445.70" cy="2202.60" r="7.6" fill="#f6a04b"/>
<circle cx="1454.90" cy="2209.70" r="7.6" fill="#f6a04b"/>
<circle cx="1436.20" cy="2222.60" r="7.6" fill="#f6a04b"/>
<polygon points="1113.20,2420.16 1122.70,2437.64 1103.70,2437.64" fill="#a2a3a6"/>
<circle cx="1113.20" cy="2481.40" r="9" fill="#f6a04b"/>
<text x="1137.27" y="2437.30" font-size="29.4" fill="#231f20">drug + DMSO</text>
<text x="1137.27" y="2489.50" font-size="29.4" fill="#231f20">drug + BSO</text>
</svg>
</body></html>
